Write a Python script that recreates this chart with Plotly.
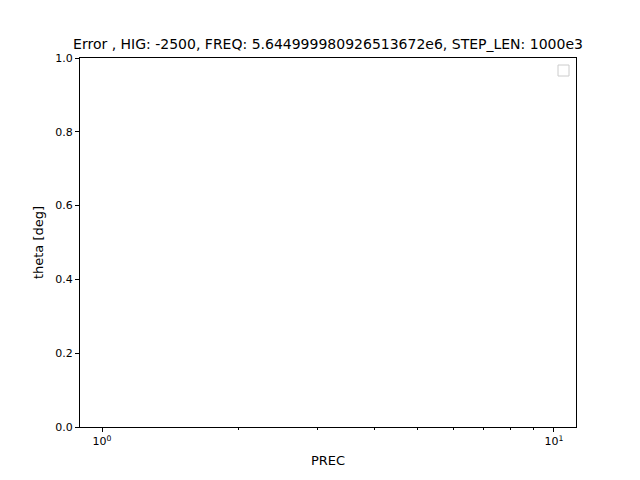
import plotly.graph_objects as go

# the chart has no data, just axes
prec = []
theta = []
x_major = [1, 10]
x_major_text = ["10<sup>0</sup>", "10<sup>1</sup>"]
x_minor = [2, 3, 4, 5, 6, 7, 8, 9]
y_ticks = [0.0, 0.2, 0.4, 0.6, 0.8, 1.0]

fig = go.Figure()
fig.add_trace(go.Scatter(x=prec, y=theta, mode="lines", showlegend=False))

axis_style = dict(showline=True, mirror=True, linecolor="black", linewidth=1,
                  ticks="outside", ticklen=4, tickcolor="black", showgrid=False, zeroline=False)

# page is drawn with an 8px offset, so margins are shifted by 8
fig.update_layout(
    width=640, height=480,
    margin=dict(l=72, r=72, t=50, b=61),
    paper_bgcolor="white", plot_bgcolor="white",
    font=dict(family="DejaVu Sans", size=11, color="black"),
    title=dict(text="Error , HIG: -2500, FREQ: 5.644999980926513672e6, STEP_LEN: 1000e3",
               x=(72 + 568) / 2 / 640, xanchor="center", y=1 - 36 / 480, yanchor="middle",
               font=dict(size=14)),
    xaxis=dict(type="log", range=[-0.0487, 1.0487], tickvals=x_major, ticktext=x_major_text,
               minor=dict(tickvals=x_minor, ticks="outside", ticklen=2, tickcolor="black"),
               title=dict(text="PREC", standoff=8), **axis_style),
    yaxis=dict(range=[0, 1], tickvals=y_ticks, tickformat=".1f",
               title=dict(text="theta [deg]", standoff=8), **axis_style),
    shapes=[dict(type="rect", xref="paper", yref="paper",
                 x0=(558 - 80) / 496, x1=(569 - 80) / 496,
                 y0=(427 - 76) / 369, y1=(427 - 65) / 369,
                 line=dict(color="#cccccc", width=1), fillcolor="white")],
)

fig.write_html("out.html")
